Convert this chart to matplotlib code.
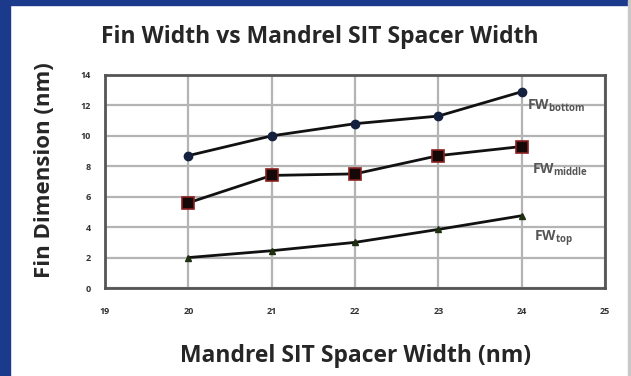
import matplotlib
matplotlib.use('Agg')
import matplotlib.pyplot as plt
from matplotlib.patches import Rectangle

# data
spacer_width = [20, 21, 22, 23, 24]
fw_bottom = [8.7, 10.0, 10.8, 11.3, 12.9]
fw_middle = [5.6, 7.4, 7.5, 8.7, 9.3]
fw_top = [2.0, 2.45, 3.0, 3.85, 4.75]

x_ticks = [19, 20, 21, 22, 23, 24, 25]
y_ticks = [0, 2, 4, 6, 8, 10, 12, 14]

FONT = ['Open Sans', 'DejaVu Sans']
TEXT = '#262626'
GRID = '#b4b4b4'
FRAME = '#1c3a8c'

plt.rcParams['font.family'] = FONT
plt.rcParams['mathtext.fontset'] = 'custom'
plt.rcParams['mathtext.rm'] = 'Open Sans:bold'

fig = plt.figure(figsize=(6.31, 3.76), dpi=100, facecolor='white')

# blue frame round the slide
fig.patches.append(Rectangle((0, 0), 10 / 631, 1, transform=fig.transFigure,
                             color=FRAME, zorder=0))
fig.patches.append(Rectangle((0, 1 - 5 / 376), 1, 5 / 376, transform=fig.transFigure,
                             color=FRAME, zorder=0))
fig.patches.append(Rectangle((1 - 3 / 631, 0), 3 / 631, 1, transform=fig.transFigure,
                             color='#c8c8c8', zorder=0))

ax = fig.add_axes([105 / 631, 1 - 288 / 376, 500 / 631, 213 / 376])

ax.plot(spacer_width, fw_bottom, color='#111111', lw=2, marker='o', ms=6,
        mfc='#15203f', mec='#15203f', zorder=3)
ax.plot(spacer_width, fw_middle, color='#111111', lw=2, marker='s', ms=9,
        mfc='#140808', mec='#8a2020', mew=1.2, zorder=3)
ax.plot(spacer_width, fw_top, color='#111111', lw=2, marker='^', ms=5,
        mfc='#1e3010', mec='#1e3010', zorder=3)

lab_kw = dict(fontsize=10, color='#555555', fontweight='bold', va='baseline')
ax.text(24.06, fw_bottom[-1] - 1.2, r'FW$_\mathregular{bottom}$', **lab_kw)
ax.text(24.12, fw_middle[-1] - 1.8, r'FW$_\mathregular{middle}$', **lab_kw)
ax.text(24.15, fw_top[-1] - 1.7, r'FW$_\mathregular{top}$', **lab_kw)

ax.set_xlim(19, 25)
ax.set_ylim(0, 14)
ax.set_xticks(x_ticks)
ax.set_yticks(y_ticks)
ax.tick_params(length=0, labelsize=6.5, colors='#333333')
ax.tick_params(axis='x', pad=14)
ax.tick_params(axis='y', pad=10)
for lab in ax.get_xticklabels() + ax.get_yticklabels():
    lab.set_fontweight('bold')
ax.grid(True, color=GRID, lw=1.6)
ax.set_axisbelow(True)
for sp in ax.spines.values():
    sp.set_edgecolor('#555555')
    sp.set_linewidth(2)

ax.set_xlabel('Mandrel SIT Spacer Width (nm)', fontsize=16.5, fontweight='bold',
              color=TEXT, labelpad=20)
ax.set_ylabel('Fin Dimension (nm)', fontsize=16, fontweight='bold', color=TEXT)
ax.yaxis.set_label_coords(-0.10, 0.555)
fig.text(320 / 631, 1 - 37 / 376, 'Fin Width vs Mandrel SIT Spacer Width',
         fontsize=16.5, fontweight='bold', color=TEXT, ha='center', va='center')

fig.savefig('out.png', dpi=100, facecolor='white')
